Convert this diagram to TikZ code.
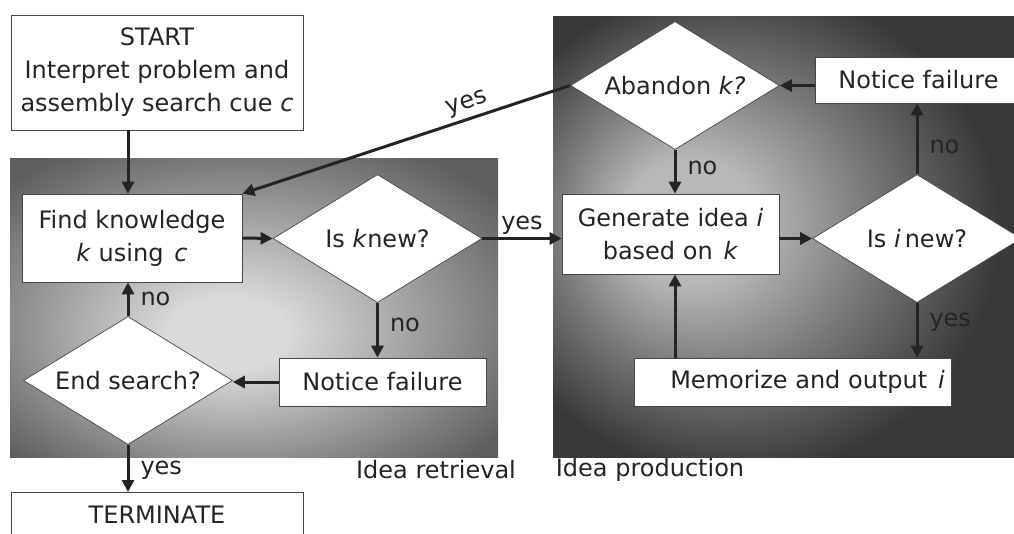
\documentclass[tikz,border=0pt]{standalone}
\usepackage{fontspec}
\setmainfont{DejaVu Sans}
\usetikzlibrary{shapes.geometric,arrows.meta}
\definecolor{ink}{HTML}{222526}
\definecolor{edge}{HTML}{454545}
\definecolor{retrlight}{HTML}{DADADA}
\definecolor{retrmid}{HTML}{9E9E9E}
\definecolor{retrdark}{HTML}{5E5E5E}
\definecolor{prodlight}{HTML}{B8B8B8}
\definecolor{prodmid}{HTML}{787878}
\definecolor{proddark}{HTML}{383838}
\pgfdeclareradialshading{retrshade}{\pgfpoint{-3bp}{-5bp}}{color(0bp)=(retrlight); color(6bp)=(retrlight); color(19bp)=(retrmid); color(33bp)=(retrdark); color(50bp)=(retrdark)}
\pgfdeclareradialshading{prodshade}{\pgfpoint{-12bp}{2bp}}{color(0bp)=(prodlight); color(7bp)=(prodlight); color(17bp)=(prodmid); color(28bp)=(proddark); color(50bp)=(proddark)}

\begin{document}
\begin{tikzpicture}[x=1pt,y=-1pt,font=\fontsize{24}{33}\selectfont,text=ink,
  box/.style={draw=edge,line width=0.7pt,fill=white,inner sep=0pt,align=center},
  test/.style={diamond,aspect=1.63,draw=edge,line width=0.7pt,fill=white,inner sep=0pt,minimum width=209pt,minimum height=128pt},
  flow/.style={draw=ink,line width=3pt,-{Triangle[length=12pt,width=12pt]}},
  tag/.style={inner sep=3pt}]
\useasboundingbox (0,0) rectangle (1014,533);
\clip (0,0) rectangle (1014,533);
\shade[shading=retrshade] (10,158) rectangle (498,457);
\shade[shading=prodshade] (553,16) rectangle (1022,457);
\node[box,minimum width=292pt,minimum height=115pt] (start) at (157,72.5) {START\\Interpret problem and\\assembly search cue \textit{c}};
\node[box,minimum width=220pt,minimum height=88pt] (find) at (132,238) {Find knowledge\\\textit{k} using\hspace{0.45em}\textit{c}};
\node[test] (isk) at (377.5,238.5) {Is \textit{k}new?};
\node[test] (endq) at (128,380.5) {End search?};
\node[box,minimum width=207pt,minimum height=48pt] (failk) at (382.5,382) {Notice failure};
\node[box,minimum width=292pt,anchor=north,inner ysep=14pt,text depth=12pt] (stop) at (157,492) {TERMINATE};
\node[test] (aband) at (675,85.5) {Abandon \textit{k?}};
\node[box,minimum width=207pt,minimum height=46pt] (faili) at (918.5,80) {Notice failure};
\node[box,minimum width=217pt,minimum height=80pt] (gen) at (670.5,234) {Generate idea \textit{i}\\based on\hspace{0.45em}\textit{k}};
\node[test] (isi) at (917,238.5) {Is \textit{i}\,new?};
\node[box,minimum width=317pt,minimum height=48pt] (mem) at (792.5,382) {\hspace*{30pt}Memorize and output\hspace{0.45em}\textit{i}};
\node[tag] (retr) at (436,470) {Idea retrieval};
\node[tag] (prod) at (650,470) {Idea production};
\draw[flow] (start.south -| endq) -- (find.north -| endq);
\draw[flow] (find.east) -- (isk.west);
\draw[flow] (isk.south) -- (failk.north -| isk.south) node[tag,pos=0.4,right=8pt]{no};
\draw[flow] (failk.west) -- (failk.west -| endq.east);
\draw[flow] (endq.north) -- (find.south -| endq.north) node[tag,midway,right=8pt]{no};
\draw[flow] (endq.south) -- (stop.north -| endq.south) node[tag,pos=0.54,right=8pt]{yes};
\draw[flow] (isk.east) -- (gen.west |- isk.east) node[tag,midway,above]{yes};
\draw[flow] (gen.east |- isi.west) -- (isi.west);
\draw[flow] (isi.north) -- (faili.south -| isi.north) node[tag,pos=0.38,right=8pt]{no};
\draw[flow] (faili.west |- aband.east) -- (aband.east);
\draw[flow] (aband.south) -- (gen.north -| aband.south) node[tag,pos=0.41,right=8pt]{no};
\draw[flow] (isi.south) -- (mem.north -| isi.south) node[tag,pos=0.36,right=8pt]{yes};
\draw[flow] (mem.north -| aband.south) -- (gen.south -| aband.south);
\draw[flow,{Triangle[length=12pt,width=12pt]}-] (find.north east) -- (aband.west) node[tag,pos=0.7,sloped,above=1pt]{yes};
\end{tikzpicture}
\end{document}
